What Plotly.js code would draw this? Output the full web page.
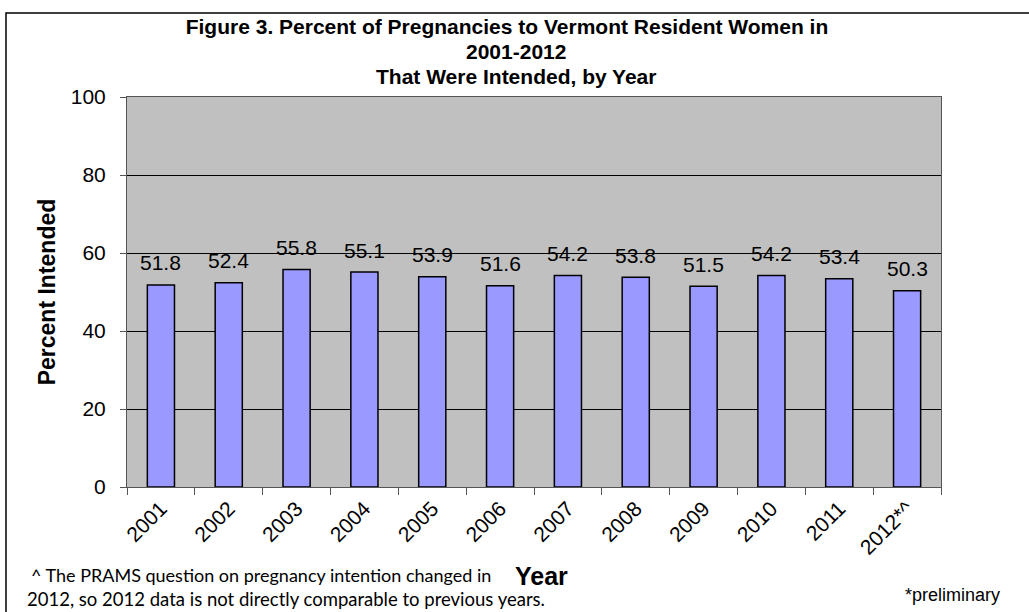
<!DOCTYPE html>
<html>
<head>
<meta charset="utf-8">
<script src="https://cdn.plot.ly/plotly-3.0.1.min.js"></script>
<style>html,body{margin:0;padding:0;background:#fff;}#chart{width:1029px;height:612px;}</style>
</head>
<body>
<div id="chart"></div>
<script>
const years = ["2001","2002","2003","2004","2005","2006","2007","2008","2009","2010","2011","2012*^"];
const percentIntended = [51.8, 52.4, 55.8, 55.1, 53.9, 51.6, 54.2, 53.8, 51.5, 54.2, 53.4, 50.3];
const titleLines = ["Figure 3. Percent of Pregnancies to Vermont Resident Women in", "2001-2012", "That Were Intended, by Year"];
const yTitle = "Percent Intended";
const xTitle = "Year";
const footnote1 = "^ The PRAMS question on pregnancy intention changed in";
const footnote2 = "2012, so 2012 data is not directly comparable to previous years.";
const prelimNote = "*preliminary";

const FONT = "Liberation Sans, Arial, sans-serif";
const NOTEFONT = "Lato, Carlito, Calibri, sans-serif";

// plot area in pixels: left 127, right 941, top 97, bottom 487
const PL = 127, PW = 814, PB = 487, PH = 390;
const px = v => (v - PL) / PW;
const py = v => (PB - v) / PH;

const trace = {
  type: "bar",
  x: years,
  y: percentIntended,
  marker: {color: "#9999FF", line: {color: "#000000", width: 1.5}},
  hoverinfo: "x+y"
};

// value labels above the bars (x given as category index)
const annotations = years.map((yr, i) => ({
  x: i, y: percentIntended[i], xref: "x", yref: "y",
  text: percentIntended[i].toFixed(1),
  showarrow: false, yanchor: "middle", yshift: 22,
  font: {family: FONT, size: 21, color: "#000"}
}));

annotations.push(
  {xref: "paper", yref: "paper", x: px(516), y: py(52), yanchor: "middle", xanchor: "center",
   text: titleLines[1], showarrow: false, font: {family: FONT, size: 21, color: "#000", weight: "bold"}},
  {xref: "paper", yref: "paper", x: px(516), y: py(77), yanchor: "middle", xanchor: "center",
   text: titleLines[2], showarrow: false, font: {family: FONT, size: 21, color: "#000", weight: "bold"}},
  {xref: "paper", yref: "paper", x: px(541), y: py(576), yanchor: "middle", xanchor: "center",
   text: xTitle, showarrow: false, font: {family: FONT, size: 25, color: "#000", weight: "bold"}},
  {xref: "paper", yref: "paper", x: px(29), y: py(575), yanchor: "middle", xanchor: "left",
   text: footnote1, showarrow: false, font: {family: NOTEFONT, size: 18, color: "#000"}},
  {xref: "paper", yref: "paper", x: px(25), y: py(599), yanchor: "middle", xanchor: "left",
   text: footnote2, showarrow: false, font: {family: NOTEFONT, size: 18.5, color: "#000"}},
  {xref: "paper", yref: "paper", x: px(952), y: py(595), yanchor: "middle", xanchor: "center",
   text: prelimNote, showarrow: false, font: {family: FONT, size: 18, color: "#000"}}
);

const layout = {
  width: 1029, height: 612,
  margin: {l: 127, r: 88, t: 97, b: 125, pad: 0},
  paper_bgcolor: "#ffffff",
  plot_bgcolor: "#C0C0C0",
  showlegend: false,
  bargap: 0.6,
  title: {
    text: titleLines[0],
    x: 507/1029, xref: "container", xanchor: "center",
    y: 1 - 27/612, yref: "container", yanchor: "middle",
    font: {family: FONT, size: 21, color: "#000", weight: "bold"}
  },
  xaxis: {
    type: "category",
    range: [-0.5, years.length - 0.5],
    autorange: false,
    tickangle: -45,
    ticks: "outside", ticklen: 7, tickcolor: "#555", tickson: "boundaries",
    showline: true, linecolor: "#555", linewidth: 1, mirror: true,
    showgrid: false,
    tickfont: {family: FONT, size: 21, color: "#000"},
    automargin: false
  },
  yaxis: {
    range: [0, 100], autorange: false, dtick: 20, tick0: 0,
    ticks: "outside", ticklen: 6, tickcolor: "#555",
    ticklabelstandoff: 10,
    showline: true, linecolor: "#555", linewidth: 1, mirror: true,
    showgrid: true, gridcolor: "#000", gridwidth: 1,
    zeroline: false,
    tickfont: {family: FONT, size: 21, color: "#000"},
    title: {text: yTitle, standoff: 8, font: {family: FONT, size: 23, color: "#000", weight: "bold"}},
    automargin: false
  },
  shapes: [{
    type: "rect", xref: "paper", yref: "paper",
    x0: px(6), x1: 1.3, y0: -0.6, y1: py(13),
    line: {color: "#000", width: 1.5}, fillcolor: "rgba(0,0,0,0)", layer: "below"
  }],
  annotations: annotations
};

Plotly.newPlot("chart", [trace], layout, {displayModeBar: false, staticPlot: true});
</script>
</body>
</html>
